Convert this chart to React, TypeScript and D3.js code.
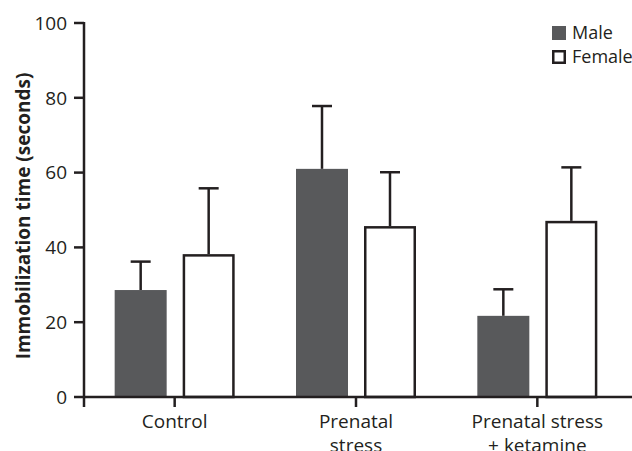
import React from "react";
import * as d3 from "d3";

const categories = ["Control", "Prenatal stress", "Prenatal stress + ketamine"];
const categoryLines = [["Control"], ["Prenatal", "stress"], ["Prenatal stress", "+ ketamine"]];
const sexes = ["Male", "Female"];
const maleMeans = [28.6, 61.0, 21.7];
const maleErr = [36.2, 77.8, 28.8];
const femaleMeans = [38.2, 45.7, 47.1];
const femaleErr = [55.8, 60.1, 61.4];
const yTicks = [0, 20, 40, 60, 80, 100];

const W = 632;
const H = 451;
const ink = "#231f20";
const maleFill = "#58595b";
const font = "'Open Sans', sans-serif";

export default function App() {
  const margin = { top: 23, left: 84, bottom: 54 };
  const y = d3.scaleLinear().domain([0, 100]).range([H - margin.bottom, margin.top]);
  const x0 = d3.scaleBand().domain(categories).range([margin.left, 628]);
  const x1 = d3.scaleBand().domain(sexes).range([-60, 60]).paddingInner(16 / 68);
  const sw = 2.5;
  const bw = x1.bandwidth();

  const rows = categories.map((c, i) => ({
    c,
    bars: [
      { sex: "Male", v: maleMeans[i], e: maleErr[i] },
      { sex: "Female", v: femaleMeans[i], e: femaleErr[i] },
    ],
  }));

  const y0 = y(0);

  return (
    <svg width={W} height={H} style={{ position: "absolute", left: 0, top: 0 }}>
      <rect width={W} height={H} fill="#fff" />
      {rows.map((r) => {
        const cx = x0(r.c)! + x0.bandwidth() / 2;
        return (
          <g key={r.c}>
            {r.bars.map((b) => {
              const bx = cx + x1(b.sex)!;
              const mid = bx + bw / 2;
              return (
                <g key={b.sex}>
                  <line x1={mid} x2={mid} y1={y(b.v)} y2={y(b.e)} stroke={ink} strokeWidth={sw} />
                  <line x1={mid - 10} x2={mid + 10} y1={y(b.e)} y2={y(b.e)} stroke={ink} strokeWidth={sw} />
                  {b.sex === "Male" ? (
                    <rect x={bx} y={y(b.v)} width={bw} height={y0 - y(b.v)} fill={maleFill} />
                  ) : (
                    <rect x={bx + sw / 2} y={y(b.v) + sw / 2} width={bw - sw} height={y0 - y(b.v) - sw / 2}
                      fill="#fff" stroke={ink} strokeWidth={sw} />
                  )}
                </g>
              );
            })}
          </g>
        );
      })}

      {/* y axis */}
      <line x1={margin.left} x2={margin.left} y1={y(100) - 1} y2={y0 + 10} stroke={ink} strokeWidth={sw} />
      {yTicks.map((t) => (
        <g key={t}>
          <line x1={margin.left - 10} x2={margin.left} y1={y(t)} y2={y(t)} stroke={ink} strokeWidth={sw} />
          <text x={margin.left - 17} y={y(t)} dy="0.36em" textAnchor="end" fontFamily={font} fontSize={19} fill={ink}>
            {t}
          </text>
        </g>
      ))}
      <text transform={`translate(30,216) rotate(-90)`} textAnchor="middle"
        fontFamily={font} fontWeight="bold" fontSize={19} fill={ink}>
        Immobilization time (seconds)
      </text>

      {/* x axis */}
      <line x1={margin.left} x2={W} y1={y0} y2={y0} stroke={ink} strokeWidth={sw} />
      {categories.map((c, i) => {
        const cx = x0(c)! + x0.bandwidth() / 2;
        return (
          <g key={c}>
            <line x1={cx} x2={cx} y1={y0} y2={y0 + 10} stroke={ink} strokeWidth={sw} />
            {categoryLines[i].map((l, j) => (
              <text key={l} x={cx} y={428 + j * 24} textAnchor="middle" fontFamily={font} fontSize={19} fill={ink}>
                {l}
              </text>
            ))}
          </g>
        );
      })}

      {/* legend */}
      <g transform="translate(552,26)">
        <rect x={0} y={0} width={14} height={14} fill={maleFill} />
        <text x={20} y={13} fontFamily={font} fontSize={18} fill={ink}>Male</text>
        <rect x={1.25} y={25.25} width={11.5} height={11.5} fill="#fff" stroke={ink} strokeWidth={2.5} />
        <text x={20} y={37} fontFamily={font} fontSize={18} fill={ink}>Female</text>
      </g>
    </svg>
  );
}
